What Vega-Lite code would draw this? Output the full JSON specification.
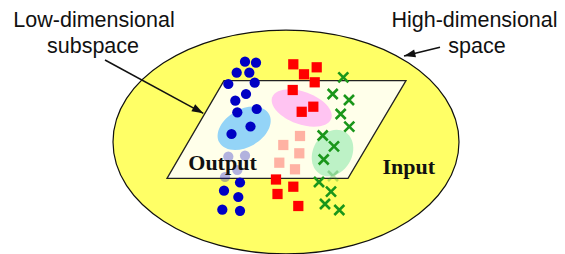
{
  "$schema": "https://vega.github.io/schema/vega-lite/v6.json",
  "width": 565,
  "height": 254,
  "autosize": {"type": "none"},
  "padding": 0,
  "background": "white",
  "config": {"view": {"stroke": null}},
  "datasets": {
    "space": [{"name": "input", "x": 286, "y": 142, "width": 346, "tilt": 0}],
    "clusters": [
      {"name": "blue", "x": 244.2, "y": 128.3, "width": 57.2, "tilt": -30},
      {"name": "pink", "x": 301.7, "y": 108, "width": 62.8, "tilt": 20},
      {"name": "green", "x": 332.5, "y": 153, "width": 49, "tilt": -60}
    ],
    "plane": [
      {"y": 80.7, "left": 224, "right": 406},
      {"y": 178.3, "left": 167, "right": 348}
    ],
    "points": [
      {"cls": "circle", "x": 245, "y": 61.7, "depth": "on"},
      {"cls": "circle", "x": 256, "y": 62.7, "depth": "on"},
      {"cls": "circle", "x": 236.7, "y": 72.7, "depth": "on"},
      {"cls": "circle", "x": 249.3, "y": 72.7, "depth": "on"},
      {"cls": "circle", "x": 228.3, "y": 84, "depth": "on"},
      {"cls": "circle", "x": 254.7, "y": 82.7, "depth": "on"},
      {"cls": "circle", "x": 246, "y": 94, "depth": "on"},
      {"cls": "circle", "x": 235.3, "y": 100.7, "depth": "on"},
      {"cls": "circle", "x": 237.3, "y": 112.3, "depth": "on"},
      {"cls": "circle", "x": 256.7, "y": 109, "depth": "on"},
      {"cls": "circle", "x": 250.5, "y": 126.5, "depth": "on"},
      {"cls": "circle", "x": 231.5, "y": 134, "depth": "on"},
      {"cls": "circle", "x": 228.3, "y": 156.7, "depth": "under"},
      {"cls": "circle", "x": 245, "y": 155.7, "depth": "under"},
      {"cls": "circle", "x": 237.3, "y": 170, "depth": "under"},
      {"cls": "circle", "x": 225, "y": 177, "depth": "under"},
      {"cls": "circle", "x": 240, "y": 182.5, "depth": "on"},
      {"cls": "circle", "x": 224, "y": 190.7, "depth": "on"},
      {"cls": "circle", "x": 238.3, "y": 197, "depth": "on"},
      {"cls": "circle", "x": 222.3, "y": 209.7, "depth": "on"},
      {"cls": "circle", "x": 240, "y": 210.8, "depth": "on"},
      {"cls": "square", "x": 293.3, "y": 64.3, "depth": "on"},
      {"cls": "square", "x": 316.7, "y": 67.3, "depth": "on"},
      {"cls": "square", "x": 304, "y": 74.3, "depth": "on"},
      {"cls": "square", "x": 314.7, "y": 82.3, "depth": "on"},
      {"cls": "square", "x": 292.7, "y": 90, "depth": "on"},
      {"cls": "square", "x": 301.7, "y": 111.8, "depth": "on"},
      {"cls": "square", "x": 313.3, "y": 106.7, "depth": "on"},
      {"cls": "square", "x": 283.3, "y": 145, "depth": "under"},
      {"cls": "square", "x": 300, "y": 136, "depth": "under"},
      {"cls": "square", "x": 299.3, "y": 153.3, "depth": "under"},
      {"cls": "square", "x": 279.3, "y": 162.7, "depth": "under"},
      {"cls": "square", "x": 295, "y": 169.3, "depth": "under"},
      {"cls": "square", "x": 276, "y": 179.5, "depth": "on"},
      {"cls": "square", "x": 293.3, "y": 186.7, "depth": "on"},
      {"cls": "square", "x": 277.5, "y": 194, "depth": "on"},
      {"cls": "square", "x": 298.3, "y": 206, "depth": "on"},
      {"cls": "cross", "x": 343.3, "y": 77.3, "depth": "on"},
      {"cls": "cross", "x": 332.7, "y": 94, "depth": "on"},
      {"cls": "cross", "x": 349, "y": 100, "depth": "on"},
      {"cls": "cross", "x": 340.7, "y": 114, "depth": "on"},
      {"cls": "cross", "x": 349.3, "y": 126.7, "depth": "on"},
      {"cls": "cross", "x": 322.7, "y": 135.5, "depth": "on"},
      {"cls": "cross", "x": 334, "y": 146.3, "depth": "on"},
      {"cls": "cross", "x": 323.7, "y": 159.5, "depth": "on"},
      {"cls": "cross", "x": 333, "y": 176, "depth": "under"},
      {"cls": "cross", "x": 319, "y": 182, "depth": "on"},
      {"cls": "cross", "x": 331, "y": 191.7, "depth": "on"},
      {"cls": "cross", "x": 325, "y": 204, "depth": "on"},
      {"cls": "cross", "x": 339.3, "y": 210, "depth": "on"}
    ],
    "labels": [
      {"text": "Low-dimensional", "x": 94, "y": 26.7, "style": "sans"},
      {"text": "subspace", "x": 93, "y": 52.7, "style": "sans"},
      {"text": "High-dimensional", "x": 474.5, "y": 26.7, "style": "sans"},
      {"text": "space", "x": 477, "y": 52.7, "style": "sans"},
      {"text": "Output", "x": 222.5, "y": 170, "style": "serif"},
      {"text": "Input", "x": 408.7, "y": 174, "style": "serif"}
    ],
    "arrows": [
      {"x0": 105, "y0": 60, "x1": 203.3, "y1": 113.3, "heading": 28.5},
      {"x0": 440, "y0": 47.3, "x1": 404, "y1": 56, "heading": 166.4}
    ]
  },
  "layer": [
    {
      "data": {"name": "space"},
      "mark": {"type": "point", "filled": true, "clip": true, "fill": "#FFFF66", "stroke": "#111111", "strokeWidth": 1.2, "opacity": 1,
        "shape": "M1,0C1,0.3573 0.5523,0.647 0,0.647C-0.5523,0.647 -1,0.3573 -1,0C-1,-0.3573 -0.5523,-0.647 0,-0.647C0.5523,-0.647 1,-0.3573 1,0Z"},
      "encoding": {
        "x": {"field": "x", "type": "quantitative", "scale": {"domain": [0, 565], "nice": false, "zero": false}, "axis": null},
        "y": {"field": "y", "type": "quantitative", "scale": {"domain": [0, 254], "nice": false, "zero": false, "reverse": true}, "axis": null},
        "size": {"field": "width", "type": "quantitative", "scale": {"type": "pow", "exponent": 2, "domain": [0, 400], "range": [0, 160000]}, "legend": null},
        "angle": {"field": "tilt", "type": "quantitative", "scale": null}
      }
    },
    {
      "data": {"name": "plane"},
      "mark": {"type": "area", "orient": "horizontal", "fill": "#FFFFEA", "stroke": "#222222", "strokeWidth": 1.3, "opacity": 1},
      "encoding": {
        "y": {"field": "y", "type": "quantitative", "scale": {"domain": [0, 254], "nice": false, "zero": false, "reverse": true}, "axis": null},
        "x": {"field": "left", "type": "quantitative", "scale": {"domain": [0, 565], "nice": false, "zero": false}, "axis": null},
        "x2": {"field": "right"}
      }
    },
    {
      "data": {"name": "clusters"},
      "transform": [{"filter": "datum.name === 'blue'"}],
      "mark": {"type": "point", "filled": true, "fill": "#94D4F7", "opacity": 1, "strokeWidth": 0,
        "shape": "M1,0C1,0.3651 0.5523,0.661 0,0.661C-0.5523,0.661 -1,0.3651 -1,0C-1,-0.3651 -0.5523,-0.661 0,-0.661C0.5523,-0.661 1,-0.3651 1,0Z"},
      "encoding": {
        "x": {"field": "x", "type": "quantitative", "scale": {"domain": [0, 565], "nice": false, "zero": false}, "axis": null},
        "y": {"field": "y", "type": "quantitative", "scale": {"domain": [0, 254], "nice": false, "zero": false, "reverse": true}, "axis": null},
        "size": {"field": "width", "type": "quantitative", "scale": {"type": "pow", "exponent": 2, "domain": [0, 400], "range": [0, 160000]}, "legend": null},
        "angle": {"field": "tilt", "type": "quantitative", "scale": null}
      }
    },
    {
      "data": {"name": "clusters"},
      "transform": [{"filter": "datum.name === 'pink'"}],
      "mark": {"type": "point", "filled": true, "fill": "#FFC4F2", "opacity": 1, "strokeWidth": 0,
        "shape": "M1,0C1,0.2872 0.5523,0.52 0,0.52C-0.5523,0.52 -1,0.2872 -1,0C-1,-0.2872 -0.5523,-0.52 0,-0.52C0.5523,-0.52 1,-0.2872 1,0Z"},
      "encoding": {
        "x": {"field": "x", "type": "quantitative", "scale": {"domain": [0, 565], "nice": false, "zero": false}, "axis": null},
        "y": {"field": "y", "type": "quantitative", "scale": {"domain": [0, 254], "nice": false, "zero": false, "reverse": true}, "axis": null},
        "size": {"field": "width", "type": "quantitative", "scale": {"type": "pow", "exponent": 2, "domain": [0, 400], "range": [0, 160000]}, "legend": null},
        "angle": {"field": "tilt", "type": "quantitative", "scale": null}
      }
    },
    {
      "data": {"name": "clusters"},
      "transform": [{"filter": "datum.name === 'green'"}],
      "mark": {"type": "point", "filled": true, "fill": "#BDF2C6", "opacity": 1, "strokeWidth": 0,
        "shape": "M1,0C1,0.4363 0.5523,0.79 0,0.79C-0.5523,0.79 -1,0.4363 -1,0C-1,-0.4363 -0.5523,-0.79 0,-0.79C0.5523,-0.79 1,-0.4363 1,0Z"},
      "encoding": {
        "x": {"field": "x", "type": "quantitative", "scale": {"domain": [0, 565], "nice": false, "zero": false}, "axis": null},
        "y": {"field": "y", "type": "quantitative", "scale": {"domain": [0, 254], "nice": false, "zero": false, "reverse": true}, "axis": null},
        "size": {"field": "width", "type": "quantitative", "scale": {"type": "pow", "exponent": 2, "domain": [0, 400], "range": [0, 160000]}, "legend": null},
        "angle": {"field": "tilt", "type": "quantitative", "scale": null}
      }
    },
    {
      "data": {"name": "points"},
      "transform": [{"filter": "datum.cls === 'circle'"}],
      "mark": {"type": "point", "shape": "circle", "filled": true, "fill": "#0000C4", "size": 105, "strokeWidth": 0},
      "encoding": {
        "x": {"field": "x", "type": "quantitative", "scale": {"domain": [0, 565], "nice": false, "zero": false}, "axis": null},
        "y": {"field": "y", "type": "quantitative", "scale": {"domain": [0, 254], "nice": false, "zero": false, "reverse": true}, "axis": null},
        "opacity": {"field": "depth", "type": "nominal", "scale": {"domain": ["on", "under"], "range": [1, 0.3]}, "legend": null}
      }
    },
    {
      "data": {"name": "points"},
      "transform": [{"filter": "datum.cls === 'square'"}],
      "mark": {"type": "point", "shape": "square", "filled": true, "fill": "#FF0000", "size": 105, "strokeWidth": 0},
      "encoding": {
        "x": {"field": "x", "type": "quantitative", "scale": {"domain": [0, 565], "nice": false, "zero": false}, "axis": null},
        "y": {"field": "y", "type": "quantitative", "scale": {"domain": [0, 254], "nice": false, "zero": false, "reverse": true}, "axis": null},
        "opacity": {"field": "depth", "type": "nominal", "scale": {"domain": ["on", "under"], "range": [1, 0.3]}, "legend": null}
      }
    },
    {
      "data": {"name": "points"},
      "transform": [{"filter": "datum.cls === 'cross'"}],
      "mark": {"type": "point", "shape": "M-1,-1L1,1M-1,1L1,-1", "filled": false, "stroke": "#1A961A", "strokeWidth": 2.6, "size": 100},
      "encoding": {
        "x": {"field": "x", "type": "quantitative", "scale": {"domain": [0, 565], "nice": false, "zero": false}, "axis": null},
        "y": {"field": "y", "type": "quantitative", "scale": {"domain": [0, 254], "nice": false, "zero": false, "reverse": true}, "axis": null},
        "opacity": {"field": "depth", "type": "nominal", "scale": {"domain": ["on", "under"], "range": [1, 0.3]}, "legend": null}
      }
    },
    {
      "data": {"name": "labels"},
      "transform": [{"filter": "datum.style === 'sans'"}],
      "mark": {"type": "text", "font": "Liberation Sans", "fontSize": 21.5, "align": "center", "baseline": "alphabetic", "color": "#111111"},
      "encoding": {
        "x": {"field": "x", "type": "quantitative", "scale": {"domain": [0, 565], "nice": false, "zero": false}, "axis": null},
        "y": {"field": "y", "type": "quantitative", "scale": {"domain": [0, 254], "nice": false, "zero": false, "reverse": true}, "axis": null},
        "text": {"field": "text"}
      }
    },
    {
      "data": {"name": "labels"},
      "transform": [{"filter": "datum.style === 'serif'"}],
      "mark": {"type": "text", "font": "Liberation Serif", "fontWeight": "bold", "fontSize": 22, "align": "center", "baseline": "alphabetic", "color": "#111111"},
      "encoding": {
        "x": {"field": "x", "type": "quantitative", "scale": {"domain": [0, 565], "nice": false, "zero": false}, "axis": null},
        "y": {"field": "y", "type": "quantitative", "scale": {"domain": [0, 254], "nice": false, "zero": false, "reverse": true}, "axis": null},
        "text": {"field": "text"}
      }
    },
    {
      "data": {"name": "arrows"},
      "mark": {"type": "rule", "color": "#111111", "strokeWidth": 1.5},
      "encoding": {
        "x": {"field": "x0", "type": "quantitative", "scale": {"domain": [0, 565], "nice": false, "zero": false}, "axis": null},
        "y": {"field": "y0", "type": "quantitative", "scale": {"domain": [0, 254], "nice": false, "zero": false, "reverse": true}, "axis": null},
        "x2": {"field": "x1"},
        "y2": {"field": "y1"}
      }
    },
    {
      "data": {"name": "arrows"},
      "mark": {"type": "point", "shape": "M0,0L-2,-0.7L-2,0.7Z", "filled": true, "fill": "#111111", "strokeWidth": 0, "size": 130, "opacity": 1},
      "encoding": {
        "x": {"field": "x1", "type": "quantitative", "scale": {"domain": [0, 565], "nice": false, "zero": false}, "axis": null},
        "y": {"field": "y1", "type": "quantitative", "scale": {"domain": [0, 254], "nice": false, "zero": false, "reverse": true}, "axis": null},
        "angle": {"field": "heading", "type": "quantitative", "scale": null}
      }
    }
  ]
}
